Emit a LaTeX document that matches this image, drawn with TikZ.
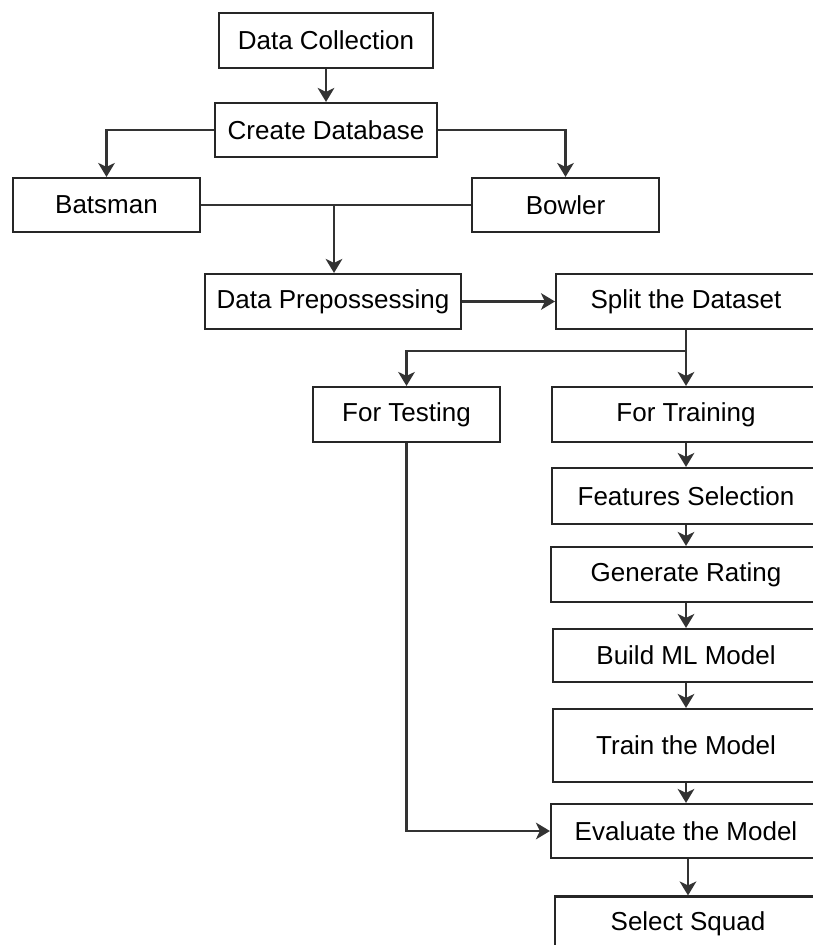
\documentclass[tikz,border=0pt]{standalone}
\usepackage{fontspec}
\setmainfont{Liberation Sans}
\usetikzlibrary{arrows.meta}
\tikzset{
  box/.style={draw=black!85, line width=1.6pt, fill=white, inner sep=0pt,
    font=\fontsize{19.5pt}{22pt}\selectfont, text=black},
  link/.style={draw=black!80, line width=1.7pt},
  arr/.style={link, -{Stealth[length=10.5pt,width=12.5pt,inset=3pt]}},
}
% w, h in px (1px = 0.75pt)
\newcommand{\bx}[5]{\node[box, minimum width=#3*0.75pt, minimum height=#4*0.75pt] (#1) at (#2) {#5};}
\begin{document}
\begin{tikzpicture}[x=0.75pt,y=-0.75pt]
\clip (0,0) rectangle (813,945);
\fill[white] (0,0) rectangle (813,945);

\bx{dc}{326,40.5}{214}{55}{Data Collection}
\bx{cdb}{326,130}{222}{54}{Create Database}
\bx{bat}{106.5,205}{187}{54}{Batsman}
\bx{bowl}{565.5,205}{187}{54}{Bowler}
\bx{prep}{333,301.5}{256}{55}{Data Prepossessing}
\bx{split}{686,301.5}{260}{55}{Split the Dataset}
\bx{test}{406.5,414.5}{187}{55}{For Testing}
\bx{train}{686,414.5}{268}{55}{For Training}
\bx{feat}{686,496}{268}{56}{Features Selection}
\bx{gen}{686,574.5}{270}{55}{Generate Rating}
\bx{build}{686,655.5}{266}{53}{Build ML Model}
\bx{trainm}{686,745.5}{266}{73}{Train the Model}
\bx{eval}{686,831}{270}{54}{Evaluate the Model}
\bx{squad}{688,924}{266}{55}{Select Squad}

\coordinate (mid) at (334,205);
\coordinate (fork) at (686,351);

\draw[arr] (dc) -- (cdb);
\draw[arr] (cdb.west) -| (bat.north);
\draw[arr] (cdb.east) -| (bowl.north);
\draw[link] (bat.east) -- (bowl.west);
\draw[arr] (mid) -- (mid |- prep.north);
\draw[arr] (prep) -- (split);
\draw[link] (split.south) -- (fork);
\draw[arr] (fork) -| (test.north);
\draw[arr] (fork) -- (train.north);
\draw[arr] (train) -- (feat);
\draw[arr] (feat) -- (gen);
\draw[arr] (gen) -- (build);
\draw[arr] (build) -- (trainm);
\draw[arr] (trainm) -- (eval);
\draw[arr] (test.south) |- (eval.west);
\draw[arr] (eval.south -| squad) -- (squad);
\end{tikzpicture}
\end{document}
